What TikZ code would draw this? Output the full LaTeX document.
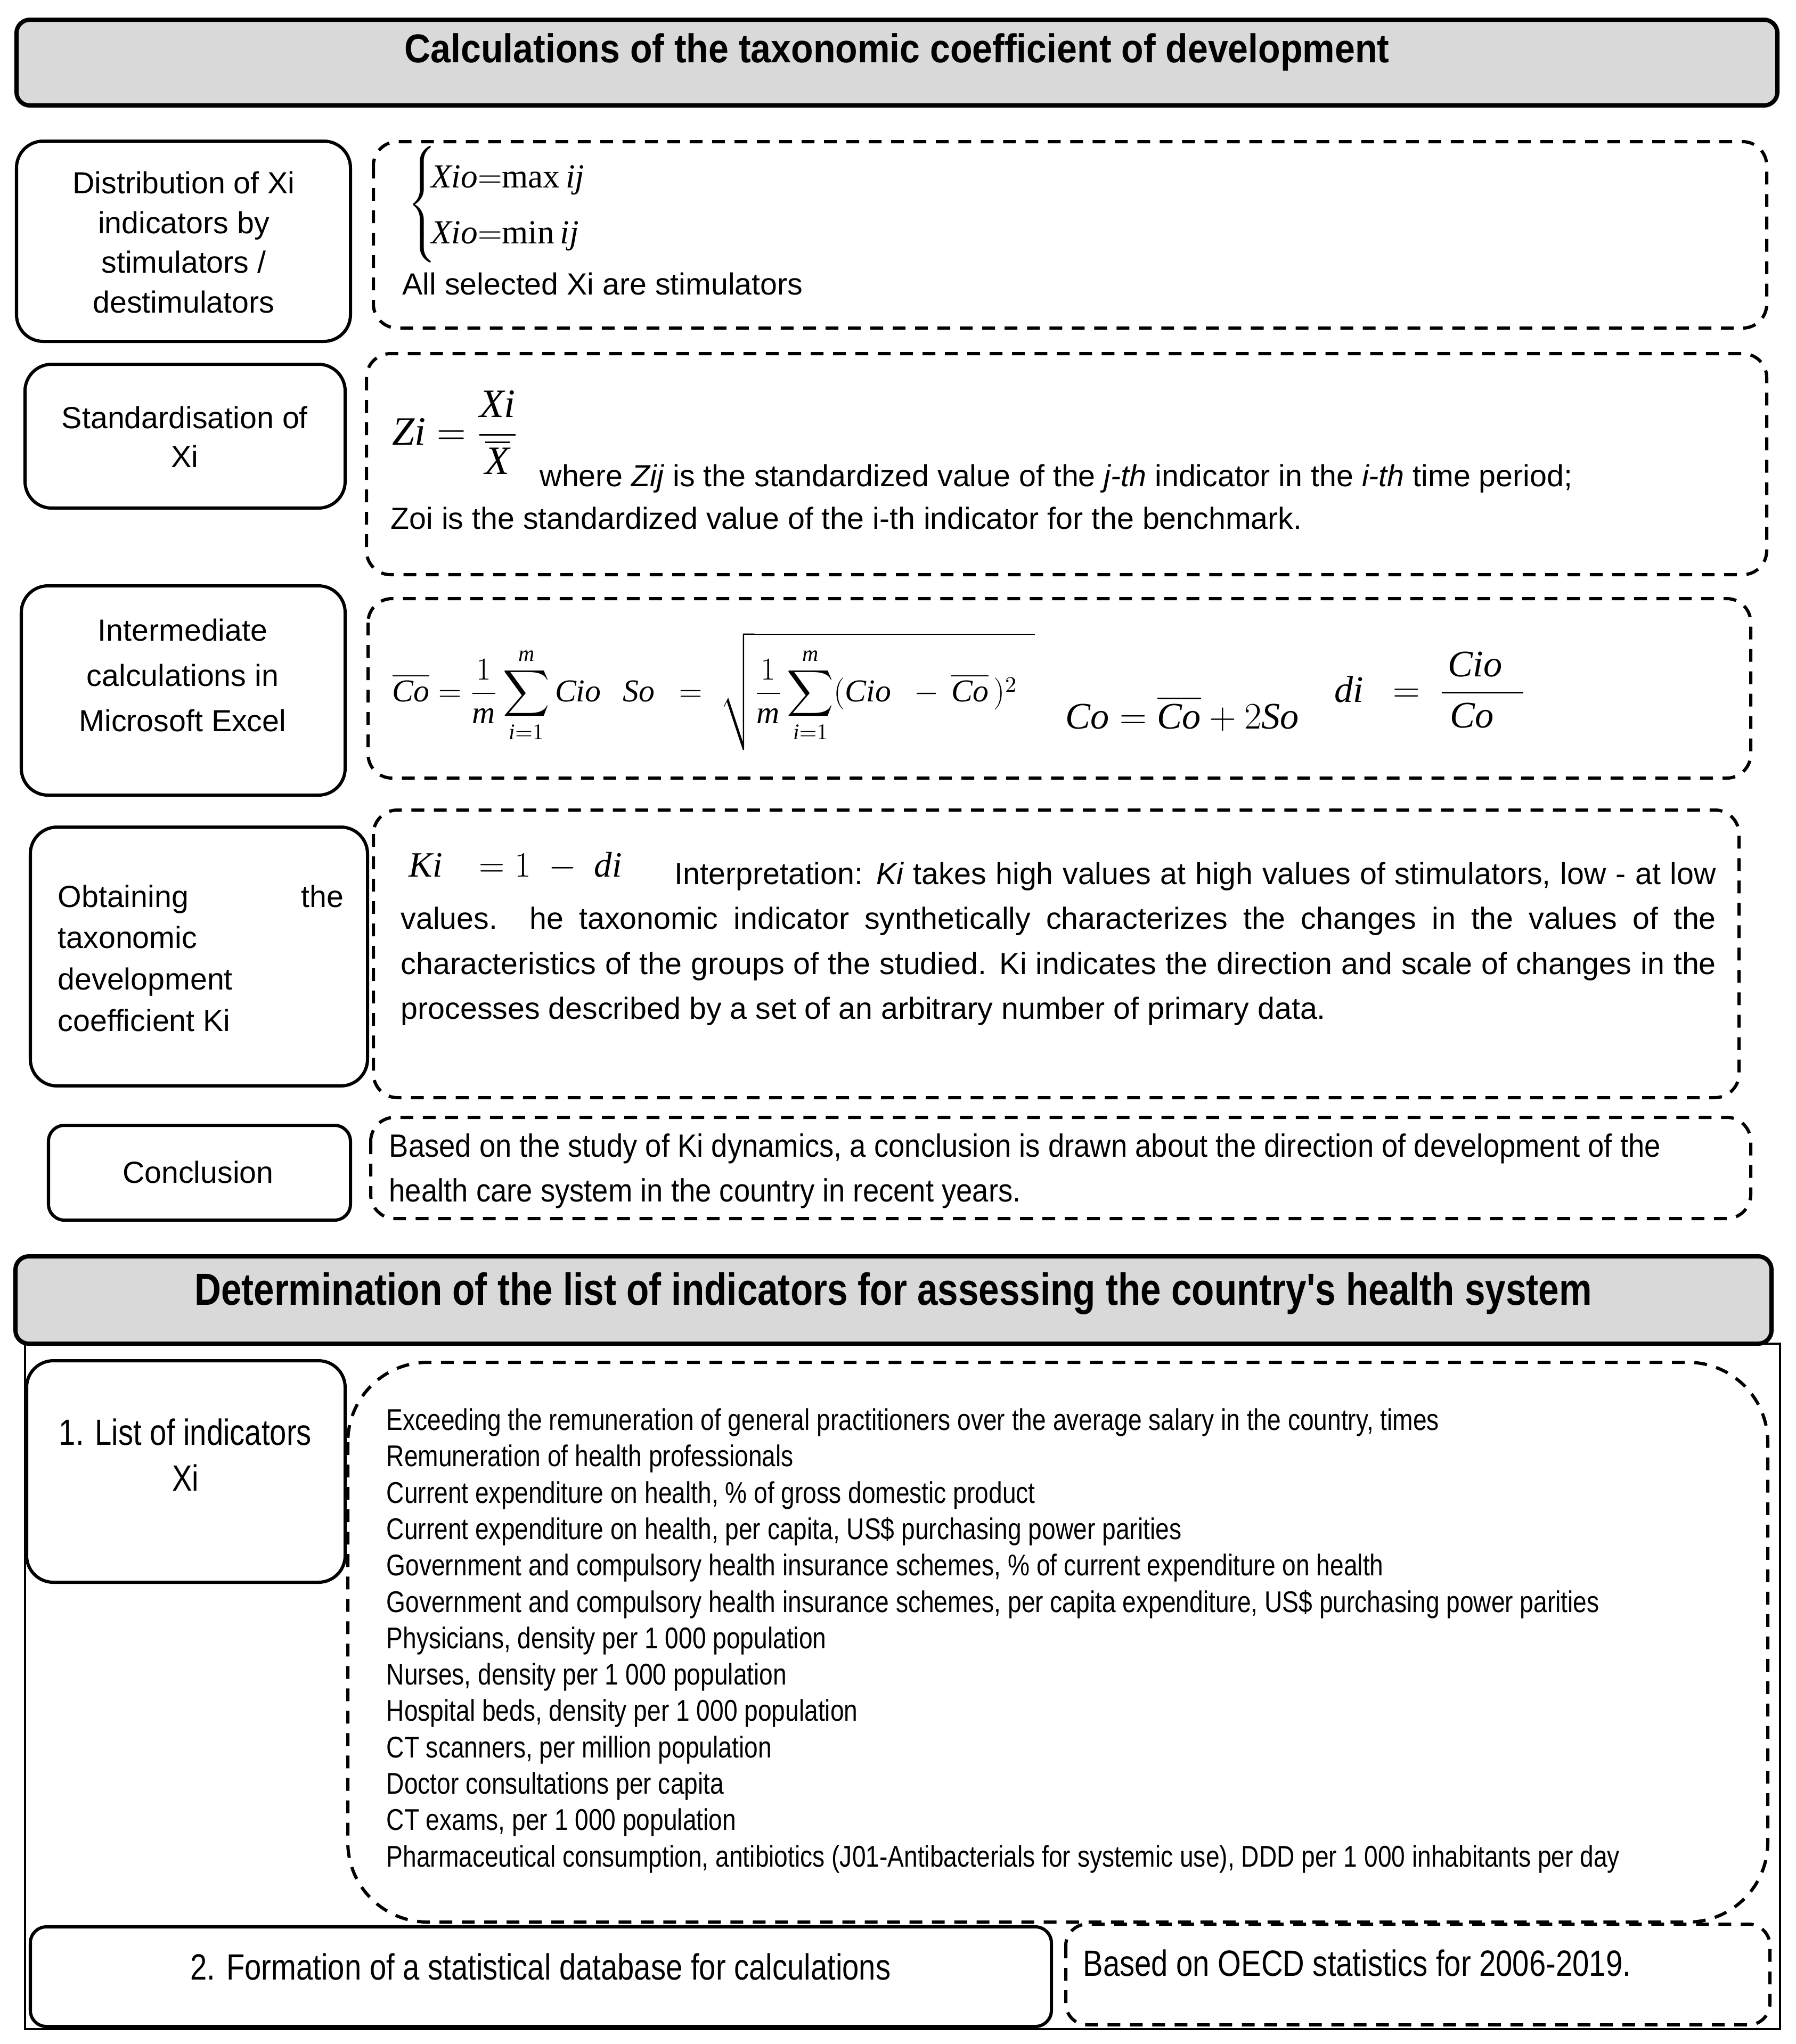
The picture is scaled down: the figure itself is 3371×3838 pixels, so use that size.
\documentclass[tikz,border=0pt]{standalone}
\usepackage{fix-cm}
\usepackage{amsmath}
\usepackage{fontspec}
\setmainfont{Liberation Serif}
\setsansfont{Liberation Sans}
\newfontfamily\narrowsf[FakeStretch=0.82]{Liberation Sans}
\newfontfamily\tightsf[FakeStretch=0.9]{Liberation Sans}
\newcommand{\mv}[1]{\text{\rmfamily\itshape #1}}
\definecolor{headgray}{HTML}{D9D9D9}
\tikzset{
  headbox/.style={line width=0.08cm, rounded corners=0.25cm, fill=headgray},
  stepbox/.style={line width=0.06cm, rounded corners=0.5cm},
  notebox/.style={line width=0.06cm, rounded corners=0.45cm, dash pattern=on 0.24cm off 0.18cm},
  headtext/.style={inner sep=0pt, anchor=base, font=\tightsf\bfseries\fontsize{21.5}{26}\selectfont},
  steptext/.style={inner sep=0pt, align=center, font=\sffamily\fontsize{16.3}{21.3}\selectfont},
  bodytext/.style={inner sep=0pt, anchor=base west, font=\sffamily\fontsize{16.3}{20}\selectfont},
  listtext/.style={inner sep=0pt, anchor=base west, font=\narrowsf\fontsize{16}{19}\selectfont},
  formula/.style={inner sep=0pt, anchor=base west, font=\fontsize{17}{20}\selectfont}
}

\begin{document}
\begin{tikzpicture}[x=0.01cm, y=-0.01cm]
\useasboundingbox (0,0) rectangle (3371,3838);
% frame of the lower block
\draw[line width=0.04cm] (47,2523) rectangle (3342,3810);
% headers
\draw[headbox] (31,37) rectangle (3337,198);
\node[headtext] (calchead) at (1684,117) {Calculations of the taxonomic coefficient of development};
\draw[headbox] (29,2359) rectangle (3326,2523);
\node[headtext, font=\narrowsf\bfseries\fontsize{24}{28}\selectfont] (listhead) at (1677,2450) {Determination of the list of indicators for assessing the country's health system};

% step boxes on the left
\draw[stepbox] (31,265) rectangle (658,641);
\node[steptext] (distrib) at (345,455) {Distribution of Xi\\indicators by\\stimulators /\\destimulators};
\draw[stepbox] (47,684) rectangle (648,954);
\node[steptext, font=\sffamily\fontsize{16.3}{20.8}\selectfont] (standard) at (347,820) {Standardisation of\\Xi};
\draw[stepbox] (40,1100) rectangle (648,1493);
\node[steptext, font=\sffamily\fontsize{16.3}{24.2}\selectfont] (interm) at (343,1268) {Intermediate\\calculations in\\Microsoft Excel};
\draw[stepbox] (57,1553) rectangle (690,2039);
\node[bodytext] (obtain1) at (108,1703) {\makebox[5.36cm][s]{Obtaining the}};
\node[bodytext] (obtain2) at (108,1780) {taxonomic};
\node[bodytext] (obtain3) at (108,1858) {development};
\node[bodytext] (obtain4) at (108,1936) {coefficient Ki};
\draw[stepbox, rounded corners=0.3cm] (91,2113) rectangle (658,2291);
\node[steptext] (conclhd) at (372,2201) {Conclusion};
\draw[stepbox] (50,2555) rectangle (648,2971);
\node[steptext, font=\narrowsf\fontsize{19.5}{24.5}\selectfont] (indhd) at (348,2732) {1. List of indicators\\Xi};
\draw[stepbox, rounded corners=0.3cm] (57,3618) rectangle (1974,3805);
\node[steptext, anchor=base, font=\narrowsf\fontsize{19.5}{24}\selectfont] (database) at (1015,3717) {2. Formation of a statistical database for calculations};

% dashed boxes on the right
\draw[notebox] (701,266) rectangle (3317,616);
\draw[notebox] (688,664) rectangle (3317,1079);
\draw[notebox] (691,1124) rectangle (3287,1461);
\draw[notebox] (701,1521) rectangle (3265,2061);
\draw[notebox] (696,2098) rectangle (3287,2288);
\draw[notebox, rounded corners=1.5cm] (653,2558) rectangle (3319,3609);
\draw[notebox, rounded corners=0.4cm] (2001,3613) rectangle (3323,3802);

% row 1
\node[formula, anchor=west, font=\fontsize{18}{30}\selectfont] (stimeq) at (765,384)
  {$\left\{\!\begin{array}{@{}l@{}}\mv{Xio}{=}\mathrm{max}\,\mv{ij}\\ \mv{Xio}{=}\mathrm{min}\,\mv{ij}\end{array}\right.$};
\node[bodytext] (stimtxt) at (755,553) {All selected Xi are stimulators};

% row 2
\node[formula, font=\fontsize{21.5}{24}\selectfont] (zieq) at (736,835) {$\mv{Zi}=\dfrac{\mv{Xi}}{\overline{\mv{X}}}$};
\node[bodytext] (zitxt1) at (1013,913) {where \textit{Zij} is the standardized value of the \textit{j-th} indicator in the \textit{i-th} time period;};
\node[bodytext] (zitxt2) at (733,993) {Zoi is the standardized value of the i-th indicator for the benchmark.};

% row 3
\node[formula] (comean) at (736,1317) {$\displaystyle\overline{\mv{Co}}=\frac{1}{\mv{m}}\sum_{\mv{i}=1}^{\mv{m}}\mv{Cio}$};
\node[formula] (sodev) at (1169,1317) {$\displaystyle\mv{So}\ \ =\;\sqrt{\frac{1}{\mv{m}}\sum_{\mv{i}=1}^{\mv{m}}(\mv{Cio}\ \ -\,\overline{\mv{Co}}\,)^{2}\;\;}$};
\node[formula, font=\fontsize{20}{22}\selectfont] (cothr) at (2000,1368) {$\mv{Co}=\overline{\mv{Co}}+2\mv{So}$};
\node[formula, font=\fontsize{20}{22}\selectfont] (diratio) at (2505,1318) {$\displaystyle\mv{di}\ \ =\ \frac{\,\mv{Cio}\;\;}{\mv{Co}\;\;}$};

% row 4
\node[formula, font=\fontsize{19}{22}\selectfont] (kieq) at (767,1646) {$\mv{Ki}\ \ \ =1\;-\;\mv{di}$};
\node[bodytext] (kitxt1) at (1266,1660) {\makebox[19.54cm][s]{Interpretation: \textit{Ki} takes high values at high values of stimulators, low - at low}};
\node[bodytext] (kitxt2) at (752,1744) {\makebox[24.68cm][s]{values. he taxonomic indicator synthetically characterizes the changes in the values of the}};
\node[bodytext] (kitxt3) at (752,1829) {\makebox[24.68cm][s]{characteristics of the groups of the studied. Ki indicates the direction and scale of changes in the}};
\node[bodytext] (kitxt4) at (752,1913) {processes described by a set of an arbitrary number of primary data.};

% row 5
\node[bodytext, font=\tightsf\fontsize{17.2}{20}\selectfont] (concl1) at (730,2172) {Based on the study of Ki dynamics, a conclusion is drawn about the direction of development of the};
\node[bodytext, font=\tightsf\fontsize{17.2}{20}\selectfont] (concl2) at (730,2256) {health care system in the country in recent years.};

% indicators
\node[listtext] (ind1) at (725,2685) {Exceeding the remuneration of general practitioners over the average salary in the country, times};
\node[listtext] (ind2) at (725,2753) {Remuneration of health professionals};
\node[listtext] (ind3) at (725,2822) {Current expenditure on health, \% of gross domestic product};
\node[listtext] (ind4) at (725,2890) {Current expenditure on health, per capita, US\$ purchasing power parities};
\node[listtext] (ind5) at (725,2958) {Government and compulsory health insurance schemes, \% of current expenditure on health};
\node[listtext] (ind6) at (725,3027) {Government and compulsory health insurance schemes, per capita expenditure, US\$ purchasing power parities};
\node[listtext] (ind7) at (725,3095) {Physicians, density per 1 000 population};
\node[listtext] (ind8) at (725,3163) {Nurses, density per 1 000 population};
\node[listtext] (ind9) at (725,3231) {Hospital beds, density per 1 000 population};
\node[listtext] (ind10) at (725,3300) {CT scanners, per million population};
\node[listtext] (ind11) at (725,3368) {Doctor consultations per capita};
\node[listtext] (ind12) at (725,3436) {CT exams, per 1 000 population};
\node[listtext] (ind13) at (725,3505) {Pharmaceutical consumption, antibiotics (J01-Antibacterials for systemic use), DDD per 1 000 inhabitants per day};

% statistics source
\node[bodytext, font=\narrowsf\fontsize{19.5}{24}\selectfont] (oecd) at (2033,3710) {Based on OECD statistics for 2006-2019.};
\end{tikzpicture}
\end{document}
